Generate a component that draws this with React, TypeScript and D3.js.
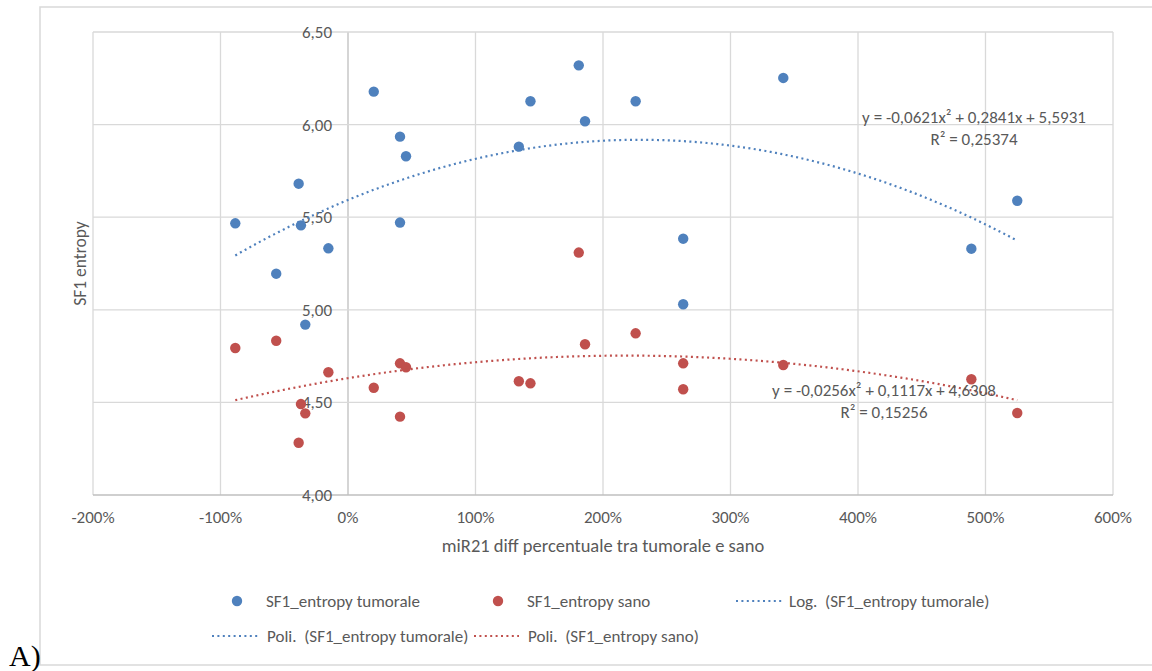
import React, { useEffect, useRef } from 'react';
import * as d3 from 'd3';

// miR21 diff percentuale (same samples for both series)
const diffPct = [-0.884, -0.563, -0.387, -0.369, -0.335, -0.154, 0.202, 0.408, 0.408, 0.455,
  1.34, 1.431, 1.81, 1.859, 2.256, 2.629, 2.629, 3.414, 4.889, 5.249];
const entropyTumorale = [5.467, 5.195, 5.681, 5.456, 4.92, 5.332, 6.178, 5.935, 5.471, 5.829,
  5.881, 6.126, 6.32, 6.018, 6.126, 5.384, 5.03, 6.252, 5.33, 5.589];
const entropySano = [4.794, 4.833, 4.282, 4.491, 4.441, 4.663, 4.579, 4.711, 4.423, 4.69,
  4.614, 4.603, 5.309, 4.814, 4.873, 4.711, 4.571, 4.702, 4.625, 4.443];

// trendline coefficients as printed on the chart (a, b, c)
const polyTumorale = [-0.0621, 0.2841, 5.5931];
const polySano = [-0.0256, 0.1117, 4.6308];
const eqTumorale = ['y = -0,0621x² + 0,2841x + 5,5931', 'R² = 0,25374'];
const eqSano = ['y = -0,0256x² + 0,1117x + 4,6308', 'R² = 0,15256'];

const xTicks = [-2, -1, 0, 1, 2, 3, 4, 5, 6];
const yTicks = [4, 4.5, 5, 5.5, 6, 6.5];

const BLUE = '#4f81bd';
const RED = '#c0504d';
const GRID = '#d9d9d9';
const TEXT = '#595959';
const FONT = "Carlito, Lato, 'Open Sans', sans-serif";

const it = d3.formatLocale({ decimal: ',', thousands: '.', grouping: [3], currency: ['', '€'], minus: '-' });

export default function App() {
  const ref = useRef<SVGSVGElement>(null);

  useEffect(() => {
    const svg = d3.select(ref.current);
    svg.selectAll('*').remove();

    const left = 93, right = 1113, top = 32, bottom = 495;
    const x = d3.scaleLinear().domain([-2, 6]).range([left, right]);
    const y = d3.scaleLinear().domain([4, 6.5]).range([bottom, top]);

    // outer chart frame
    svg.append('rect')
      .attr('x', 40).attr('y', 7).attr('width', 1140).attr('height', 658)
      .attr('fill', 'white').attr('stroke', GRID).attr('stroke-width', 1.5);

    const g = svg.append('g');

    // gridlines
    g.selectAll('.vg').data(xTicks).enter().append('line')
      .attr('x1', d => x(d)).attr('x2', d => x(d))
      .attr('y1', top).attr('y2', bottom)
      .attr('stroke', d => d === 0 ? '#bfbfbf' : GRID).attr('stroke-width', 1.3);
    g.selectAll('.hg').data(yTicks).enter().append('line')
      .attr('x1', left).attr('x2', right)
      .attr('y1', d => y(d)).attr('y2', d => y(d))
      .attr('stroke', d => d === 4 ? '#bfbfbf' : GRID).attr('stroke-width', 1.3);

    // tick labels
    const fy = it.format('.2f');
    const fx = it.format('.0%');
    g.selectAll('.yl').data(yTicks).enter().append('text')
      .attr('x', x(0) - 16).attr('y', d => y(d)).attr('dy', '0.35em')
      .attr('text-anchor', 'end').attr('fill', TEXT)
      .style('font-family', FONT).style('font-size', '17px')
      .text(d => fy(d));
    g.selectAll('.xl').data(xTicks).enter().append('text')
      .attr('x', d => x(d)).attr('y', 517).attr('dy', '0.35em')
      .attr('text-anchor', 'middle').attr('fill', TEXT)
      .style('font-family', FONT).style('font-size', '17px')
      .text(d => fx(d));

    // axis titles
    svg.append('text')
      .attr('x', (left + right) / 2).attr('y', 546).attr('dy', '0.35em')
      .attr('text-anchor', 'middle').attr('fill', TEXT)
      .style('font-family', FONT).style('font-size', '18.5px')
      .text('miR21 diff percentuale tra tumorale e sano');
    svg.append('text')
      .attr('transform', `translate(80, ${(top + bottom) / 2}) rotate(-90)`)
      .attr('dy', '0.35em')
      .attr('text-anchor', 'middle').attr('fill', TEXT)
      .style('font-family', FONT).style('font-size', '17.5px')
      .text('SF1 entropy');

    // trendlines
    const ext = d3.extent(diffPct) as [number, number];
    const xs = d3.range(ext[0], ext[1], 0.02).concat([ext[1]]);
    const line = d3.line<number[]>().x(d => x(d[0])).y(d => y(d[1]));
    const curve = (p: number[]) => xs.map(v => [v, p[0] * v * v + p[1] * v + p[2]]);

    // points
    const pts = (vals: number[], color: string) => {
      g.selectAll(null).data(vals).enter().append('circle')
        .attr('cx', (d, i) => x(diffPct[i])).attr('cy', d => y(d))
        .attr('r', 5.2).attr('fill', color);
    };
    pts(entropyTumorale, BLUE);
    pts(entropySano, RED);

    [[polyTumorale, BLUE], [polySano, RED]].forEach(([p, c]) => {
      g.append('path')
        .attr('d', line(curve(p as number[])))
        .attr('fill', 'none').attr('stroke', c as string)
        .attr('stroke-width', 2.2).attr('stroke-dasharray', '2 3.4');
    });

    // equations
    const eq = (lines: string[], cx: number, cy: number) => {
      lines.forEach((t, i) => {
        svg.append('text')
          .attr('x', cx).attr('y', cy + i * 22).attr('dy', '0.35em')
          .attr('text-anchor', 'middle').attr('fill', TEXT)
          .style('font-family', FONT).style('font-size', '17px')
          .text(t);
      });
    };
    eq(eqTumorale, 974, 117);
    eq(eqSano, 884, 390);

    // legend
    const lg = svg.append('g').style('font-family', FONT).style('font-size', '17px');
    const label = (tx: number, ty: number, t: string) =>
      lg.append('text').attr('x', tx).attr('y', ty).attr('dy', '0.35em')
        .attr('xml:space', 'preserve').style('white-space', 'pre')
        .attr('fill', TEXT).text(t);
    const dot = (cx: number, cy: number, c: string) =>
      lg.append('circle').attr('cx', cx).attr('cy', cy).attr('r', 5.2).attr('fill', c);
    const dash = (x1: number, x2: number, cy: number, c: string) =>
      lg.append('line').attr('x1', x1).attr('x2', x2).attr('y1', cy).attr('y2', cy)
        .attr('stroke', c).attr('stroke-width', 2.2).attr('stroke-dasharray', '2 3.4');

    dot(237, 601, BLUE); label(266, 601, 'SF1_entropy tumorale');
    dot(498, 601, RED); label(527, 601, 'SF1_entropy sano');
    dash(736, 782, 601, BLUE); label(789, 601, 'Log.  (SF1_entropy tumorale)');
    dash(212, 259, 636, BLUE); label(267, 636, 'Poli.  (SF1_entropy tumorale)');
    dash(474, 519, 636, RED); label(528, 636, 'Poli.  (SF1_entropy sano)');

    // panel letter
    svg.append('text')
      .attr('x', 9).attr('y', 666)
      .attr('fill', '#000')
      .style('font-family', "'Liberation Serif', serif").style('font-size', '30px')
      .text('A)');
  }, []);

  return (
    <svg ref={ref} width={1152} height={671}
      style={{ position: 'absolute', left: 0, top: 0, background: 'white' }} />
  );
}
